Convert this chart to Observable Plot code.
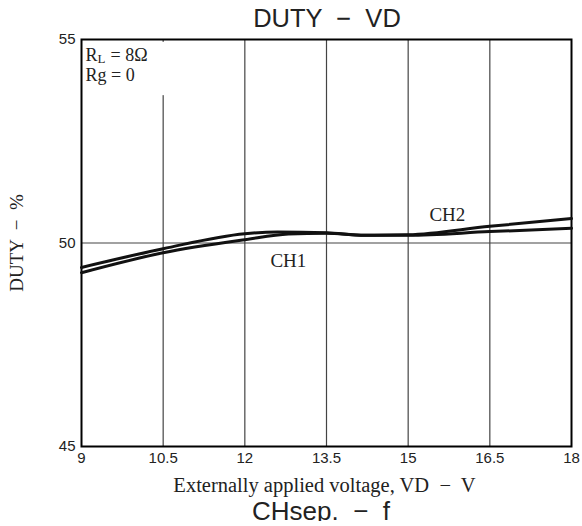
<!DOCTYPE html>
<html>
<head>
<meta charset="utf-8">
<script src="https://cdn.jsdelivr.net/npm/d3@7"></script>
<script src="https://cdn.jsdelivr.net/npm/@observablehq/plot@0.6"></script>
<style>
  html, body { margin: 0; padding: 0; background: white; overflow: hidden; }
  #title { width: 582px; height: 30px; box-sizing: border-box; padding: 4px 9px 0 81px; line-height: 30px;
    font: 25.5px "Liberation Sans", Arial, sans-serif; color: #222; text-align: center; white-space: pre; }
  #caption { width: 582px; height: 25px; box-sizing: border-box; padding: 0 21px 0 81px; line-height: 25px;
    font: 26px "Liberation Sans", Arial, sans-serif; color: #222; text-align: center; white-space: pre; }
  #chart svg { display: block; }
</style>
</head>
<body>
<div id="title">DUTY  −  VD</div>
<div id="chart"></div>
<div id="caption">CHsep.  −  f</div>
<script>
// Series
const ch2Voltage = [9, 10.5, 12, 12.6, 13.5, 14.2, 15, 16.5, 18];
const ch2Duty    = [49.40, 49.86, 50.23, 50.27, 50.25, 50.19, 50.20, 50.41, 50.60];
const ch1Voltage = [9, 10.5, 12, 12.8, 13.5, 14.2, 15, 16.5, 18];
const ch1Duty    = [49.27, 49.76, 50.08, 50.22, 50.24, 50.19, 50.19, 50.28, 50.36];

const xTicks = [9, 10.5, 12, 13.5, 15, 16.5, 18];
const yTicks = [45, 50, 55];
const xGrid = [10.5, 12, 13.5, 15, 16.5];
const yGrid = [50];

const seriesLabels = [
  {name: "CH1", v: 12.80, d: 49.57},
  {name: "CH2", v: 15.72, d: 50.69}
];

const ch1 = ch1Voltage.map((v, i) => ({v, d: ch1Duty[i]}));
const ch2 = ch2Voltage.map((v, i) => ({v, d: ch2Duty[i]}));

const serif = '"Liberation Serif", "Times New Roman", serif';

const plot = Plot.plot({
  width: 582,
  height: 466,
  marginTop: 9,
  marginBottom: 50,
  marginLeft: 81,
  marginRight: 11,
  style: {fontFamily: '"Liberation Sans", Arial, sans-serif', fontSize: "15px", color: "#222", background: "white", overflow: "visible"},
  x: {domain: [9, 18]},
  y: {domain: [45, 55]},
  marks: [
    Plot.ruleX(xGrid, {stroke: "#444", strokeWidth: 1.2}),
    Plot.ruleY(yGrid, {stroke: "#444", strokeWidth: 1.2}),
    // white box behind the conditions note
    Plot.rect([{x1: 9.04, x2: 10.75, y1: 53.62, y2: 54.93}], {x1: "x1", x2: "x2", y1: "y1", y2: "y2", fill: "white"}),
    Plot.frame({stroke: "black", strokeWidth: 2}),
    Plot.axisX({ticks: xTicks, tickSize: 0, tickPadding: 6, label: null, tickFormat: d => String(d), fill: "#222"}),
    Plot.axisY({ticks: yTicks, tickSize: 0, tickPadding: 6, label: null, fill: "#222"}),
    Plot.line(ch1, {x: "v", y: "d", stroke: "#111", strokeWidth: 3, curve: "monotone-x"}),
    Plot.line(ch2, {x: "v", y: "d", stroke: "#111", strokeWidth: 3, curve: "monotone-x"}),
    Plot.text(seriesLabels, {x: "v", y: "d", text: "name", fontFamily: serif, fontSize: 19, fill: "#222"}),
    // conditions note
    Plot.text(["R"], {x: () => 9, y: () => 54.48, dx: 4, textAnchor: "start", lineAnchor: "bottom", fontFamily: serif, fontSize: 18, fill: "#222"}),
    Plot.text(["L"], {x: () => 9, y: () => 54.48, dx: 16, dy: 2, textAnchor: "start", lineAnchor: "bottom", fontFamily: serif, fontSize: 13, fill: "#222"}),
    Plot.text(["= 8Ω"], {x: () => 9, y: () => 54.48, dx: 29, textAnchor: "start", lineAnchor: "bottom", fontFamily: serif, fontSize: 18, fill: "#222"}),
    Plot.text(["Rg = 0"], {x: () => 9, y: () => 53.99, dx: 4, textAnchor: "start", lineAnchor: "bottom", fontFamily: serif, fontSize: 18, fill: "#222"}),
    // axis titles
    Plot.text(["Externally applied voltage, VD  −  V"], {frameAnchor: "bottom", dx: -2, dy: 45, lineAnchor: "bottom", fontFamily: serif, fontSize: 20.5, fill: "#222"}),
    Plot.text(["DUTY  −  %"], {frameAnchor: "left", dx: -65, rotate: -90, textAnchor: "middle", fontFamily: serif, fontSize: 19, fill: "#222"})
  ]
});
document.getElementById("chart").append(plot);
</script>
</body>
</html>
